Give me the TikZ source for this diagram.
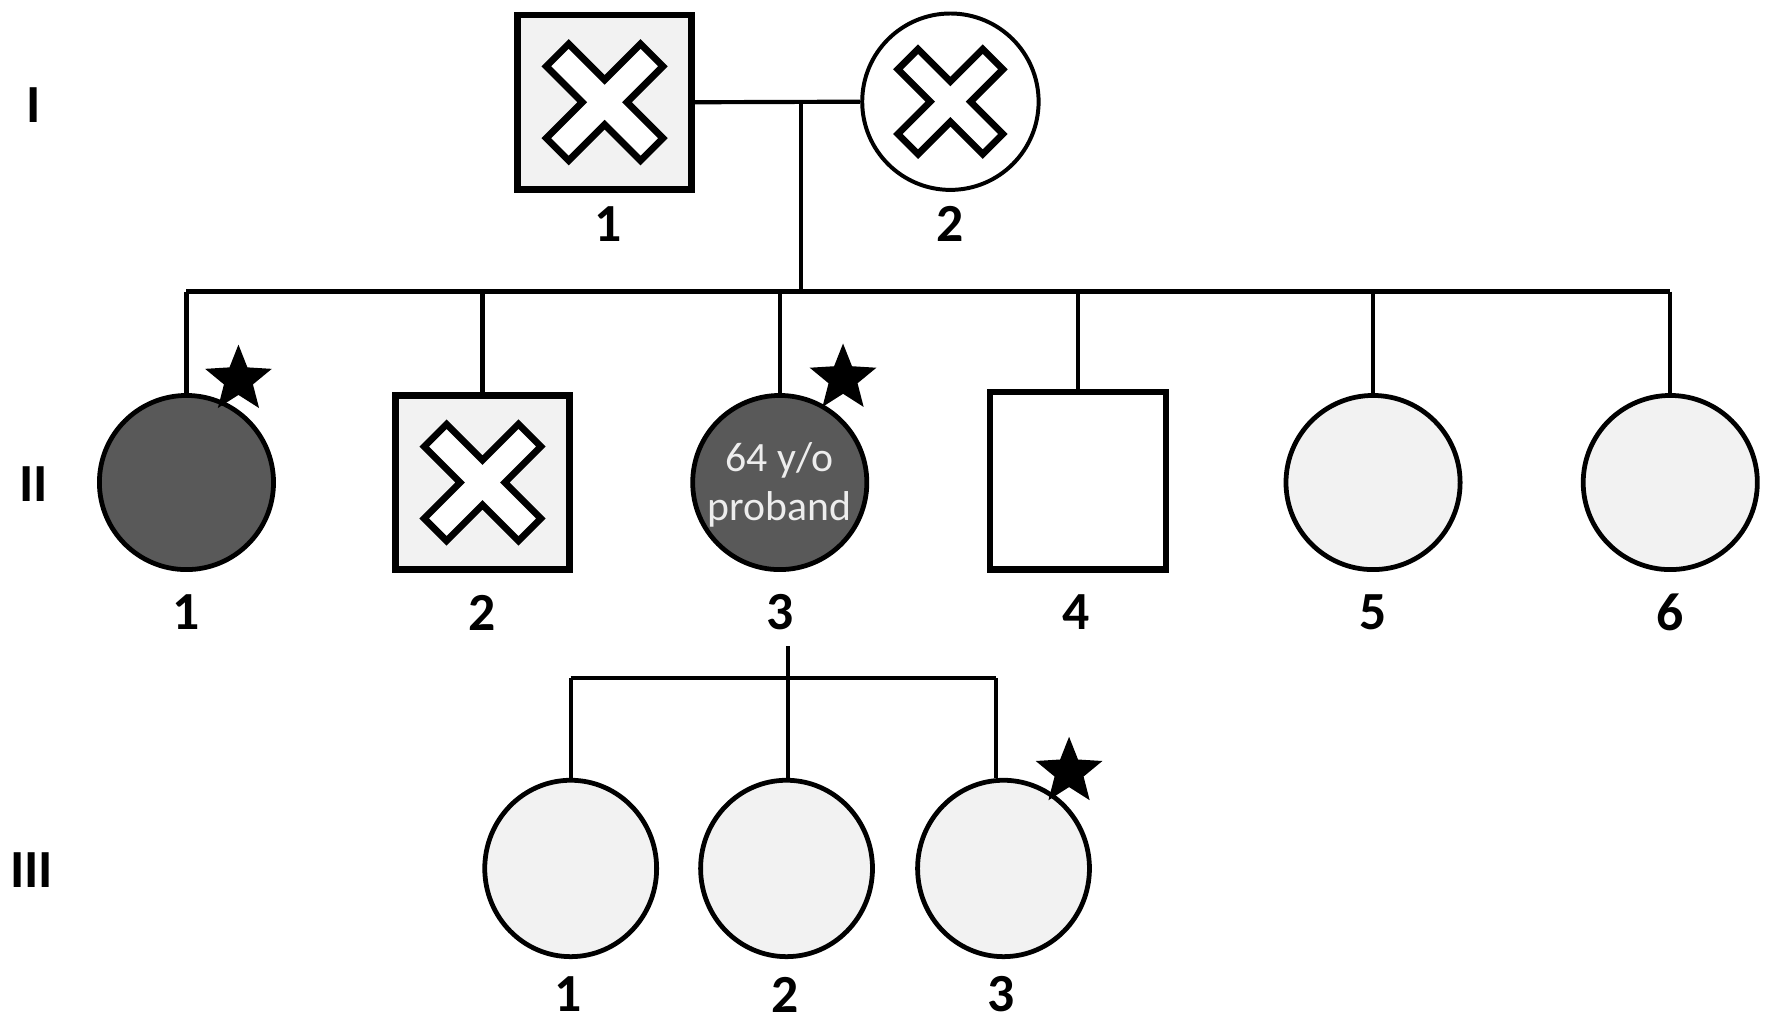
\documentclass[tikz,border=0pt]{standalone}
\usepackage{fontspec}
\setmainfont{Carlito}
\usetikzlibrary{shapes.geometric}
\definecolor{affected}{HTML}{595959}
\definecolor{unaff}{HTML}{F2F2F2}
\definecolor{probtext}{HTML}{EDEDED}
\begin{document}
\begin{tikzpicture}[x=0.01cm,y=-0.01cm,
  female/.style={circle,draw,line width=1.2pt,minimum size=1.54cm,inner sep=0pt},
  femaleIII/.style={ellipse,draw,line width=1.2pt,minimum width=1.52cm,minimum height=1.56cm,inner sep=0pt,fill=unaff},
  male/.style={rectangle,draw,line width=1.6pt,minimum size=1.54cm,inner sep=0pt},
  link/.style={line width=1.05pt},
  idlabel/.style={font=\fontsize{13.5}{14}\selectfont\bfseries,inner sep=0pt},
  genlabel/.style={font=\fontsize{13.5}{14}\selectfont\bfseries,inner sep=0pt},
  starmark/.style={star,star points=5,star point ratio=2.3,fill=black,draw=none,inner sep=0pt,minimum size=0.62cm},
  deadx/.pic={\draw[line width=1.7pt,fill=white,rotate=45] (14,59) -- (14,14) -- (59,14) -- (59,-14) -- (14,-14) -- (14,-59) -- (-14,-59) -- (-14,-14) -- (-59,-14) -- (-59,14) -- (-14,14) -- (-14,59) -- cycle;}
]
\useasboundingbox (0,0) rectangle (1568,912.3);

% generation labels
\node[genlabel] (gI) at (30,93) {I};
\node[genlabel] (gII) at (30,428) {II};
\node[genlabel] (gIII) at (28,770) {III};

% generation I
\node[male,fill=unaff] (I1) at (535,90.5) {};
\pic at (I1.center) {deadx};
\node[female,fill=white,line width=1pt,minimum size=1.56cm] (I2) at (841,90) {};
\pic[scale=0.9] at (I2.center) {deadx};

% generation II
\node[female,fill=affected] (II1) at (165,427) {};
\node[male,fill=unaff] (II2) at (427,427) {};
\pic at (II2.center) {deadx};
\node[female,fill=affected] (II3) at (690,427) {};
\node[male,fill=white,minimum width=1.56cm,minimum height=1.57cm] (II4) at (954,425.5) {};
\node[female,fill=unaff] (II5) at (1215,427) {};
\node[female,fill=unaff] (II6) at (1478,427) {};

% generation III
\node[femaleIII] (III1) at (505,768.5) {};
\node[femaleIII] (III2) at (696,768.5) {};
\node[femaleIII] (III3) at (888,768.5) {};

% connectors
\coordinate (mI) at (709,91);
\coordinate (sII) at (709,258);
\coordinate (sl) at (165,258);
\coordinate (sr) at (1478,258);
\draw[link] (I1.east) -- (I2.west);
\draw[link] (mI) -- (sII);
\draw[link] (sl) -- (sr);
\foreach \n in {II1,II2,II3,II4,II5,II6}
  \draw[link] (\n.north |- sl) -- (\n.north);

\coordinate (dIII) at (697,572);
\coordinate (tl) at (505,600);
\coordinate (tr) at (881,600);
\draw[link] (tl) -- (tr);
\draw[link] (dIII) -- (dIII |- III2.north);
\draw[link] (tl) -- (III1.north);
\draw[link] (tr) -- (tr |- III3.north);

% stars
\node[starmark] (st1) at (211,336) {};
\node[starmark] (st3) at (746,335) {};
\node[starmark] (st5) at (946,683) {};

% proband text
\node[text=probtext,align=center,font=\fontsize{10.5}{12.2}\selectfont,inner sep=0pt] (ptxt) at (690,429) {64 y/o\\proband};

% id labels
\node[idlabel] (lI1) at (538,198) {1};
\node[idlabel] (lI2) at (841,198) {2};
\node[idlabel] (lII1) at (165,542) {1};
\node[idlabel] (lII2) at (427,542) {2};
\node[idlabel] (lII3) at (690,542) {3};
\node[idlabel] (lII4) at (952,542) {4};
\node[idlabel] (lII5) at (1215,542) {5};
\node[idlabel] (lII6) at (1478,542) {6};
\node[idlabel] (lIII1) at (503,880) {1};
\node[idlabel] (lIII2) at (695,880) {2};
\node[idlabel] (lIII3) at (886,880) {3};
\end{tikzpicture}
\end{document}
